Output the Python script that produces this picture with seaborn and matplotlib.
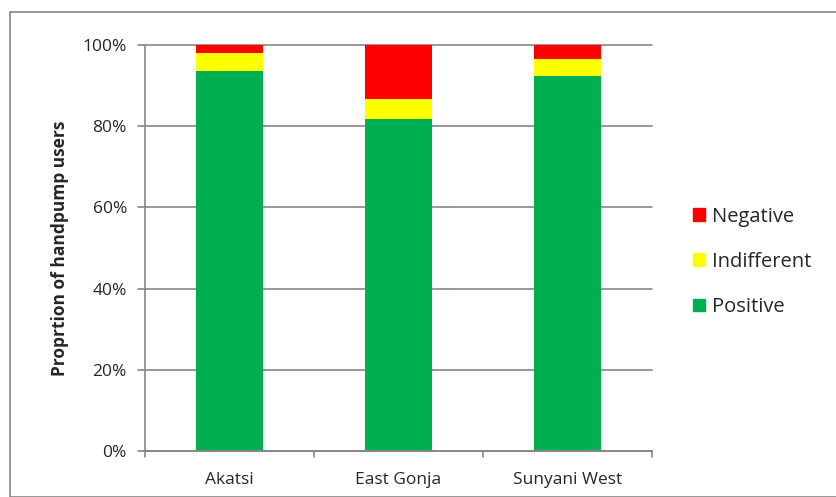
import matplotlib
matplotlib.use("Agg")
import matplotlib.pyplot as plt
import matplotlib.patches as mpatches
import seaborn as sns
import pandas as pd
import numpy as np

categories = ["Akatsi", "East Gonja", "Sunyani West"]
positive = [93.6, 81.7, 92.3]
indifferent = [4.4, 5.1, 4.3]
negative = [2.0, 13.2, 3.4]
yticklabels = ["0%", "20%", "40%", "60%", "80%", "100%"]

colors = {"Positive": "#00B050", "Indifferent": "#FFFF00", "Negative": "#FF0000"}

sns.set_style("white")
plt.rcParams['font.family'] = ['Open Sans', 'DejaVu Sans']

fig = plt.figure(figsize=(8.36, 4.97), dpi=100)
ax = fig.add_axes([145/836, 1-451/497, (652-145)/836, (451-45)/497])

pos = np.array(positive)
ind = np.array(indifferent)
neg = np.array(negative)
df = pd.DataFrame({
    "cat": categories,
    "top3": pos + ind + neg,
    "top2": pos + ind,
    "top1": pos,
})

for col, name in [("top3", "Negative"), ("top2", "Indifferent"), ("top1", "Positive")]:
    sns.barplot(data=df, x="cat", y=col, color=colors[name], width=0.4,
                saturation=1, ax=ax, zorder=3, edgecolor="none")

ax.set_ylim(0, 100)
ax.set_xlim(-0.5, 2.5)
ax.set_yticks([0, 20, 40, 60, 80, 100])
ax.set_yticklabels(yticklabels, fontsize=12.5)
ax.set_xticks([0, 1, 2])
ax.set_xticklabels(categories, fontsize=12.5)
ax.set_xlabel("")
ax.set_ylabel("Proprtion of handpump users", fontsize=12.5, fontweight="bold", labelpad=10)

grid_c = "#868686"
for y in [20, 40, 60, 80, 100]:
    ax.axhline(y, color=grid_c, lw=1.2, zorder=1, xmin=-0.014, clip_on=False)
ax.tick_params(axis="y", length=0, pad=13)
ax.tick_params(axis="x", length=0, pad=15)
for s in ["top", "right"]:
    ax.spines[s].set_visible(False)
ax.spines["left"].set_color(grid_c)
ax.spines["left"].set_linewidth(1.2)
ax.spines["bottom"].set_color(grid_c)
ax.spines["bottom"].set_linewidth(1.2)
ax.spines["bottom"].set_zorder(4)
ax.axhline(0, color=grid_c, lw=1.2, xmin=-0.014, clip_on=False, zorder=4)
for xb in [-0.5, 0.5, 1.5, 2.5]:
    ax.plot([xb, xb], [0, -1.5], color=grid_c, lw=1.2, clip_on=False, zorder=4)

handles = [mpatches.Patch(color=colors[n], label=n) for n in ["Negative", "Indifferent", "Positive"]]
leg = fig.legend(handles=handles, loc="upper left", bbox_to_anchor=(0.829, 0.584),
                 frameon=False, fontsize=14.5, handlelength=0.6, handleheight=0.6,
                 handletextpad=0.35, labelspacing=1.25, borderaxespad=0, borderpad=0)

fig.patches.append(mpatches.Rectangle((10/836, 0), 1, 1-12/497, transform=fig.transFigure,
                                      fill=False, edgecolor=grid_c, lw=1.2, zorder=0))

fig.savefig("out.png", dpi=100)
